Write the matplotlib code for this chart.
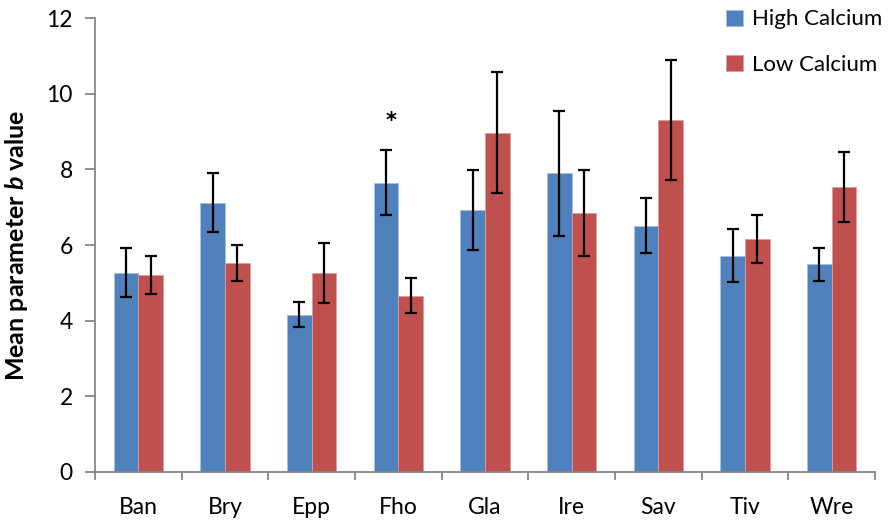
import numpy as np
import matplotlib
matplotlib.use("Agg")
import matplotlib.pyplot as plt

plt.rcParams['font.family'] = ['Lato', 'DejaVu Sans']
plt.rcParams['mathtext.fontset'] = 'custom'
plt.rcParams['mathtext.bf'] = 'Lato:bold:italic'

# Mean parameter b per site, with error bars
sites = ['Ban', 'Bry', 'Epp', 'Fho', 'Gla', 'Ire', 'Sav', 'Tiv', 'Wre']
high_ca = [5.27, 7.12, 4.16, 7.65, 6.93, 7.89, 6.51, 5.72, 5.49]
high_err = [0.65, 0.78, 0.34, 0.87, 1.05, 1.64, 0.73, 0.69, 0.44]
low_ca = [5.21, 5.53, 5.26, 4.66, 8.97, 6.85, 9.31, 6.16, 7.53]
low_err = [0.51, 0.48, 0.80, 0.46, 1.59, 1.13, 1.58, 0.63, 0.93]
signif = ['', '', '', '*', '', '', '', '', '']

blue = '#4F81BD'
red = '#C0504D'
grey = '#868686'

fig = plt.figure(figsize=(8.89, 5.29), dpi=100)
ax = fig.add_axes([95 / 889, 1 - 472 / 529, 780 / 889, 454 / 529])

x = np.arange(len(sites))
w = 1 / 3.5
err_kw = dict(ecolor='black', elinewidth=1.6, capsize=4.5, capthick=1.6)
ax.bar(x - w / 2, high_ca, w, yerr=high_err, color=blue, edgecolor='#a7bfdd',
       linewidth=0.6, label='High Calcium', error_kw=err_kw)
ax.bar(x + w / 2, low_ca, w, yerr=low_err, color=red, edgecolor='#dc9c9a',
       linewidth=0.6, label='Low Calcium', error_kw=err_kw)

# significance marker above the high-calcium bar
for i, s in enumerate(signif):
    if s:
        ax.text(x[i] - w / 2 + 0.06, high_ca[i] + high_err[i] + 0.75, s,
                ha='center', va='center', fontsize=15, fontweight='bold',
                family='DejaVu Sans')

ax.set_xlim(-0.5, len(sites) - 0.5)
ax.set_ylim(0, 12)
ax.set_yticks(range(0, 13, 2))
ax.set_xticks(x)
ax.set_xticklabels(sites)
ax.set_xticks(np.arange(-0.5, len(sites)), minor=True)
ax.tick_params(axis='x', which='major', length=0, labelsize=16.5, pad=18)
ax.tick_params(axis='x', which='minor', length=6, color=grey, width=1.3)
ax.tick_params(axis='y', length=7, color=grey, width=1.3, labelsize=16.5, pad=9)

for side in ['top', 'right']:
    ax.spines[side].set_visible(False)
for side in ['left', 'bottom']:
    ax.spines[side].set_color(grey)
    ax.spines[side].set_linewidth(1.3)

ax.set_ylabel(r'Mean parameter $\mathbf{b}$ value', fontsize=18,
              fontweight='bold', labelpad=12)

fig.legend(loc='upper left', bbox_to_anchor=(706 / 889, 1.02), frameon=False,
           fontsize=16, handlelength=0.75, handleheight=0.75, handletextpad=0.4,
           labelspacing=1.15)

fig.savefig('out.png', dpi=100)
